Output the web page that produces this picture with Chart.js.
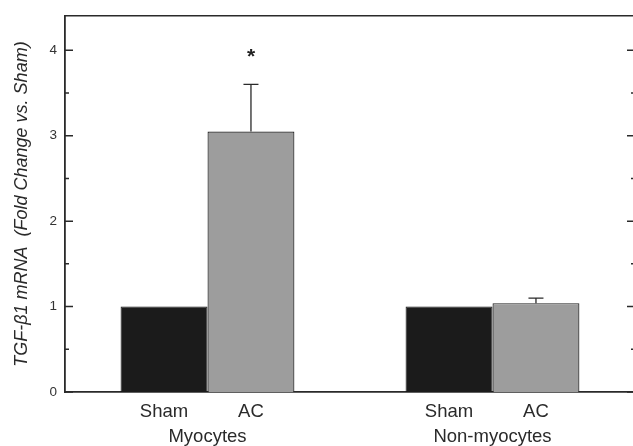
<!DOCTYPE html>
<html>
<head>
<meta charset="utf-8">
<script src="https://cdn.jsdelivr.net/npm/chart.js@4"></script>
<style>
  html, body { margin: 0; padding: 0; background: #fff; overflow: hidden; }
  #wrap { width: 640px; height: 460px; }
</style>
</head>
<body>
<div id="wrap"><canvas id="myChart" width="640" height="460"></canvas></div>
<script>
// values
const groups = ["Myocytes", "Non-myocytes"];
const conditions = ["Sham", "AC"];
const shamValues = [1.0, 1.0];
const acValues = [3.05, 1.04];
const acErrors = [0.55, 0.06];
const acMarks = ["*", ""];
const yTickLabels = [0, 1, 2, 3, 4];
const yTitle = "TGF-\u03b21 mRNA  (Fold Change vs. Sham)";

const ink = "#2a2a2a";
const catPct = 0.61;
const font = "'Liberation Sans', Arial, sans-serif";

// tick marks on the inside of the frame, error bars and the star
const decorations = {
  id: "decorations",
  afterDatasetsDraw(chart) {
    const ctx = chart.ctx;
    const area = chart.chartArea;
    const y = chart.scales.y;
    ctx.save();
    ctx.strokeStyle = ink;
    ctx.lineWidth = 1.5;
    y.ticks.forEach((t) => {
      const py = y.getPixelForValue(t.value);
      const len = Number.isInteger(t.value) ? 8 : 4;
      ctx.beginPath();
      ctx.moveTo(area.left, py);
      ctx.lineTo(area.left + len, py);
      ctx.moveTo(area.right, py);
      ctx.lineTo(area.right - len, py);
      ctx.stroke();
    });

    const meta = chart.getDatasetMeta(1);
    ctx.lineWidth = 1.3;
    meta.data.forEach((bar, i) => {
      const top = y.getPixelForValue(acValues[i] + acErrors[i]);
      ctx.beginPath();
      ctx.moveTo(bar.x, bar.y);
      ctx.lineTo(bar.x, top);
      ctx.moveTo(bar.x - 7.5, top);
      ctx.lineTo(bar.x + 7.5, top);
      ctx.stroke();
      if (acMarks[i]) {
        ctx.fillStyle = "#222";
        ctx.font = "bold 21px " + font;
        ctx.textAlign = "center";
        ctx.textBaseline = "alphabetic";
        ctx.fillText(acMarks[i], bar.x, top - 21);
      }
    });
    ctx.restore();
  },
};

const ctx = document.getElementById("myChart");

new Chart(ctx, {
  type: "bar",
  data: {
    datasets: [
      {
        label: conditions[0],
        data: groups.map((g, i) => ({ x: i + 0.5, y: shamValues[i] })),
        backgroundColor: "#1b1b1b",
        borderColor: "#111",
        borderWidth: 1,
        categoryPercentage: catPct,
        barPercentage: 1,
      },
      {
        label: conditions[1],
        data: groups.map((g, i) => ({ x: i + 0.5, y: acValues[i] })),
        backgroundColor: "#9d9d9d",
        borderColor: "#222",
        borderWidth: 1.2,
        categoryPercentage: catPct,
        barPercentage: 1,
      },
    ],
  },
  options: {
    responsive: false,
    animation: false,
    devicePixelRatio: 1,
    layout: { padding: { top: 11, right: 5, left: 0, bottom: 0 } },
    plugins: { legend: { display: false }, tooltip: { enabled: false } },
    scales: {
      x: {
        type: "linear",
        min: 0,
        max: 2,
        offset: false,
        weight: 1,
        grid: { display: false, drawTicks: false },
        border: { display: false },
        afterBuildTicks: (scale) => {
          scale.ticks = groups.map((g, i) => ({ value: i + 0.5 }));
        },
        afterFit: (scale) => { scale.height = 35; },
        ticks: {
          autoSkip: false,
          maxRotation: 0,
          minRotation: 0,
          padding: 1,
          color: ink,
          font: { family: font, size: 18.5 },
          callback: (v, i) => groups[i],
        },
      },
      xc: {
        type: "linear",
        position: "bottom",
        min: 0,
        max: 2,
        offset: false,
        weight: 0,
        grid: { display: false, drawTicks: false },
        border: { display: true, color: ink, width: 1.8 },
        afterBuildTicks: (scale) => {
          const t = [];
          groups.forEach((g, i) => {
            t.push({ value: i + 0.5 - catPct / 4 });
            t.push({ value: i + 0.5 + catPct / 4 });
          });
          scale.ticks = t;
        },
        afterFit: (scale) => { scale.height = 33; },
        ticks: {
          autoSkip: false,
          maxRotation: 0,
          minRotation: 0,
          padding: 9,
          color: ink,
          font: { family: font, size: 18.5 },
          callback: (v, i) => conditions[i % conditions.length],
        },
      },
      xt: {
        type: "linear",
        position: "top",
        min: 0,
        max: 2,
        grid: { display: false, drawTicks: false },
        border: { display: true, color: ink, width: 1.5 },
        ticks: { display: false },
        afterFit: (scale) => { scale.height = 0; },
      },
      y: {
        min: 0,
        max: 4.4,
        grid: { display: false, drawTicks: false },
        border: { display: true, color: ink, width: 1.8 },
        afterFit: (scale) => { scale.width = 65; },
        ticks: {
          stepSize: 0.5,
          includeBounds: false,
          padding: 8,
          color: "#333",
          font: { family: font, size: 13.5 },
          callback: (v) => (yTickLabels.includes(v) ? String(v) : ""),
        },
        title: {
          display: true,
          text: yTitle,
          color: ink,
          padding: { top: 11, bottom: 0 },
          font: { family: font, size: 18, style: "italic" },
        },
      },
    },
  },
  plugins: [decorations],
});
</script>
</body>
</html>
